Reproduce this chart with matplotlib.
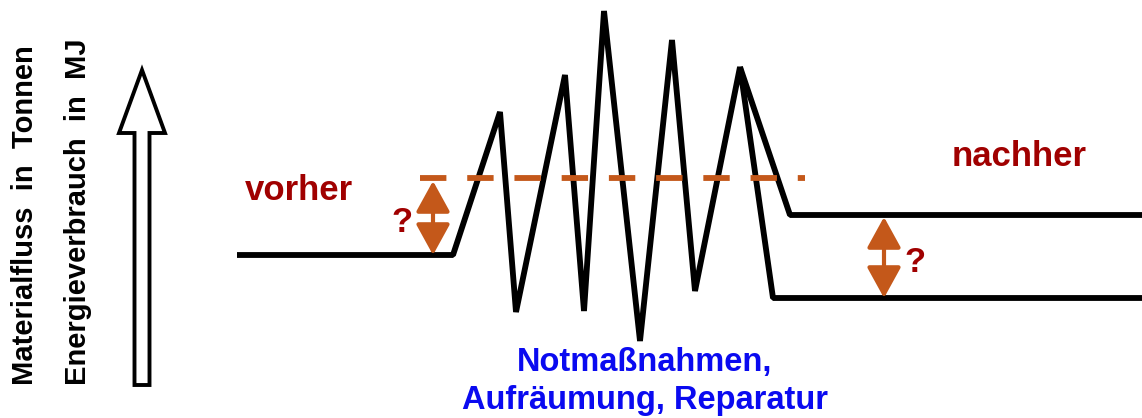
import matplotlib
matplotlib.use("Agg")

import matplotlib.pyplot as plt
from matplotlib.patches import FancyArrow

plt.rcParams['font.family'] = ['Liberation Sans', 'DejaVu Sans']

# figure is laid out in pixel units (x right, y down)
W, H = 1142, 418

# zigzag path (lower "nachher" branch)
path_x = [237, 453, 500, 516, 565, 584, 604, 640, 672, 695, 740, 773, 1142]
path_y = [255, 255, 112, 312, 75, 311, 11, 341, 40, 291, 67, 298, 298]

# upper "nachher" branch from the last peak
branch_x = [740, 790, 1142]
branch_y = [67, 215, 215]

# dashed "vorher" reference level
ref_x = [420, 805]
ref_y = [178, 178]

# double arrows: (x, y_top, y_bottom)
gap_left = (433, 181, 255)
gap_right = (884, 217, 298)

# hollow axis arrow: x, y_bottom, y_tip
axis_arrow = (142, 385, 70)

labels_left = ["Materialfluss  in  Tonnen", "Energieverbrauch  in  MJ"]
label_left_x = [25, 78]
label_left_y = [215, 212]

black = "black"
orange = "#C4581A"
darkred = "#A00000"
blue = "#0A0AF0"

fig = plt.figure(figsize=(W / 100, H / 100), dpi=100)
ax = fig.add_axes([0, 0, 1, 1])
ax.set_xlim(0, W)
ax.set_ylim(H, 0)
ax.axis('off')

ax.plot(path_x, path_y, color=black, lw=4.2, solid_joinstyle='bevel',
        solid_capstyle='butt')
ax.plot(branch_x, branch_y, color=black, lw=4.2, solid_joinstyle='bevel',
        solid_capstyle='butt')

lw_dash = 4.2
ax.plot(ref_x, ref_y, color=orange, lw=lw_dash, solid_capstyle='butt',
        dash_capstyle='butt', ls=(0, (19 / lw_dash, 15 / lw_dash)))

for x, yt, yb in (gap_left, gap_right):
    ax.annotate('', xy=(x, yt), xytext=(x, yb),
                arrowprops=dict(arrowstyle='<|-|>,head_length=1.0,head_width=0.55',
                                color=orange, lw=3, shrinkA=0, shrinkB=0,
                                mutation_scale=19))

ax.add_patch(FancyArrow(axis_arrow[0], axis_arrow[1], 0, axis_arrow[2] - axis_arrow[1],
                        width=15, head_width=46, head_length=63,
                        length_includes_head=True, fc='white', ec=black, lw=2.8))

ax.text(299, 190, "vorher", color=darkred, fontsize=25, fontweight='bold',
        ha='center', va='center')
ax.text(1019, 157, "nachher", color=darkred, fontsize=25, fontweight='bold',
        ha='center', va='center')
ax.text(402, 222, "?", color=darkred, fontsize=25, fontweight='bold',
        ha='center', va='center')
ax.text(915, 262, "?", color=darkred, fontsize=25, fontweight='bold',
        ha='center', va='center')

ax.text(645, 362, "Notmaßnahmen,", color=blue, fontsize=23.5, fontweight='bold',
        ha='center', va='center')
ax.text(645, 400, "Aufräumung, Reparatur", color=blue, fontsize=23.5, fontweight='bold',
        ha='center', va='center')

for txt, x, y in zip(labels_left, label_left_x, label_left_y):
    ax.text(x, y, txt, rotation=90, fontsize=21, fontweight='bold',
            ha='center', va='center', color=black)

fig.savefig("out.png", dpi=100)
